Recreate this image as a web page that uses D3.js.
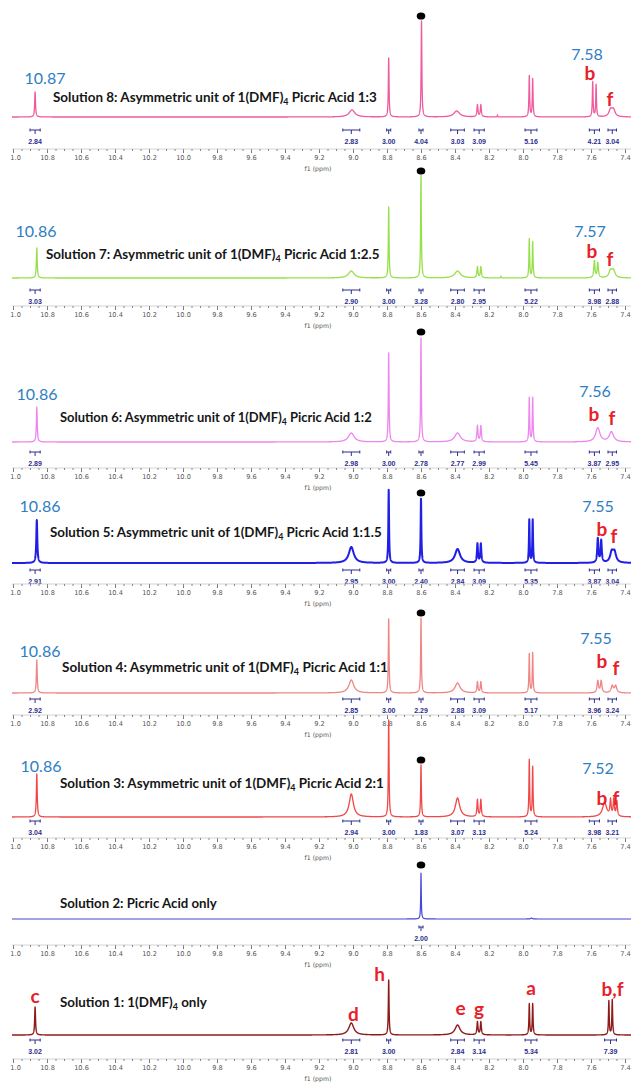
<!DOCTYPE html>
<html>
<head>
<meta charset="utf-8">
<script src="https://cdn.jsdelivr.net/npm/d3@7"></script>
<style>
  body { margin: 0; background: #fff; }
  svg { display: block; }
</style>
</head>
<body>
<svg id="chart" width="631" height="1086"></svg>
<script>
// ---------------- data ----------------
// Chemical-shift axis labels (ppm)
const ppmTicks = [11.0, 10.8, 10.6, 10.4, 10.2, 10.0, 9.8, 9.6, 9.4, 9.2, 9.0, 8.8, 8.6, 8.4, 8.2, 8.0, 7.8, 7.6, 7.4];

// Spectrum titles: [text, subscript, text]
const titlesS = [
  ["Solution 8: Asymmetric unit of 1(DMF)", "4", " Picric Acid 1:3"],
  ["Solution 7: Asymmetric unit of 1(DMF)", "4", " Picric Acid 1:2.5"],
  ["Solution 6: Asymmetric unit of 1(DMF)", "4", " Picric Acid 1:2"],
  ["Solution 5: Asymmetric unit of 1(DMF)", "4", " Picric Acid 1:1.5"],
  ["Solution 4: Asymmetric unit of 1(DMF)", "4", " Picric Acid 1:1"],
  ["Solution 3: Asymmetric unit of 1(DMF)", "4", " Picric Acid 2:1"],
  ["Solution 2: Picric Acid only", "", ""],
  ["Solution 1: 1(DMF)", "4", " only"]
];

// Peaks of each spectrum: [shift ppm, intensity, line width ppm]
const peaksS8 = [[10.87,25,0.006],[9.006,7,0.04],[8.79,59,0.005],[8.597,96,0.005],[8.39,6,0.04],
  [8.268,12,0.007],[8.248,12,0.007],[8.15,2,0.003],[7.963,41,0.005],[7.943,38,0.005],
  [7.59,35,0.005],[7.57,32,0.005],[7.485,7,0.022],[7.468,7,0.022]];
const peaksS7 = [[10.86,30,0.006],[9.01,7,0.04],[8.79,71,0.005],[8.60,103,0.005],[8.385,7,0.04],
  [8.268,11,0.007],[8.248,11,0.007],[8.13,2,0.003],[7.963,39,0.005],[7.943,36,0.005],
  [7.58,17,0.008],[7.56,15,0.008],[7.485,7,0.022],[7.468,7,0.022]];
const peaksS6 = [[10.86,35,0.006],[9.01,9,0.04],[8.79,89,0.005],[8.60,104,0.005],[8.385,9,0.04],
  [8.268,16,0.007],[8.248,16,0.007],[7.963,44,0.005],[7.943,44,0.005],
  [7.56,14,0.03],[7.48,10,0.03]];
const peaksS5 = [[10.86,43,0.007],[9.01,16,0.035],[8.79,73,0.005],[8.60,64,0.005],[8.385,14,0.035],
  [8.268,19,0.007],[8.248,19,0.007],[7.963,43,0.005],[7.943,43,0.005],
  [7.56,24,0.008],[7.54,22,0.008],[7.478,10,0.022],[7.462,10,0.022]];
const peaksS4 = [[10.86,33,0.006],[9.01,13,0.035],[8.79,74,0.005],[8.60,75,0.005],[8.385,10,0.035],
  [8.268,11,0.007],[8.248,11,0.007],[7.963,39,0.005],[7.943,40,0.005],
  [7.56,12,0.01],[7.54,12,0.01],[7.475,7,0.015],[7.455,7,0.015]];
const peaksS3 = [[10.86,43,0.006],[9.01,23,0.03],[8.79,97,0.005],[8.60,52,0.005],[8.385,19,0.03],
  [8.268,17,0.007],[8.248,17,0.007],[7.963,57,0.005],[7.943,50,0.005],
  [7.52,14,0.03],[7.485,16,0.008],[7.466,17,0.008],[7.448,15,0.008]];
const peaksS2 = [[8.60,46,0.004],[7.95,1,0.01]];
const peaksS1 = [[10.87,28,0.006],[9.01,12,0.035],[8.79,55,0.005],[8.385,10,0.035],
  [8.268,13,0.007],[8.248,13,0.007],[7.963,31,0.005],[7.943,31,0.005],
  [7.495,34,0.005],[7.475,35,0.005]];

// Integrated regions: centre (ppm), half-range (ppm) and integral value
const integralPpm = [10.87, 9.01, 8.79, 8.60, 8.385, 8.258, 7.953, 7.58, 7.475];
const integralHalf = [0.03, 0.05, 0.012, 0.012, 0.04, 0.03, 0.035, 0.03, 0.025];
const integralsS8 = [2.84, 2.83, 3.00, 4.04, 3.03, 3.09, 5.16, 4.21, 3.04];
const integralsS7 = [3.03, 2.90, 3.00, 3.28, 2.80, 2.95, 5.22, 3.98, 2.88];
const integralsS6 = [2.89, 2.98, 3.00, 2.78, 2.77, 2.99, 5.45, 3.87, 2.95];
const integralsS5 = [2.91, 2.95, 3.00, 2.40, 2.84, 3.09, 5.35, 3.87, 3.04];
const integralsS4 = [2.92, 2.85, 3.00, 2.29, 2.88, 3.09, 5.17, 3.96, 3.24];
const integralsS3 = [3.04, 2.94, 3.00, 1.83, 3.07, 3.13, 5.24, 3.98, 3.21];
const integralPpmS2 = [8.60];
const integralsS2 = [2.00];
const integralPpmS1 = [10.87, 9.01, 8.79, 8.385, 8.258, 7.953, 7.485];
const integralHalfS1 = [0.03, 0.05, 0.012, 0.04, 0.03, 0.035, 0.035];
const integralsS1 = [3.02, 2.81, 3.00, 2.84, 3.14, 5.34, 7.39];

// Marked shifts of the NH (left) and b (right) signals
const shiftLeft = ["10.87", "10.86", "10.86", "10.86", "10.86", "10.86"];
const shiftRight = ["7.58", "7.57", "7.56", "7.55", "7.55", "7.52"];

// Proton assignments of solution 1
const assignLetters = ["c", "d", "h", "e", "g", "a", "b,f"];
const assignPpm = [10.87, 9.01, 8.79, 8.385, 8.258, 7.953, 7.485];

// ---------------- layout ----------------
const W = 631;
const svg = d3.select("#chart");
const x = d3.scaleLinear().domain([11.0, 7.4]).range([13, 625]);

const lineColors = ["#EF5B9C", "#97E04A", "#EE86EE", "#1F1FE6", "#F08585", "#F04848", "#4646DA", "#8E1B1B"];
const lineWidths = [1.3, 1.3, 1.3, 2.0, 1.3, 1.3, 1.2, 1.4];

const panelLayout = [
  {B:117,  valY:141,  axY:159,  title:[53,97,377],   left:[45,77],   right:[587,53],  b:[590,72],  f:[610,98],  dotY:16},
  {B:278,  valY:301,  axY:316,  title:[46,254,380],  left:[36,230],  right:[590,230], b:[592,250], f:[610,258], dotY:171},
  {B:442,  valY:463,  axY:478,  title:[60,417,372],  left:[37,393],  right:[595,390], b:[594,413], f:[612,417], dotY:332},
  {B:563,  valY:581,  axY:594,  title:[50,532,382],  left:[40,505],  right:[598,505], b:[602,528], f:[614,535], dotY:493},
  {B:693,  valY:710,  axY:725,  title:[62,667,388],  left:[40,650],  right:[596,637], b:[602,660], f:[616,667], dotY:613},
  {B:817,  valY:832,  axY:848,  title:[60,783,384],  left:[41,765],  right:[598,767], b:[602,797], f:[616,797], dotY:760},
  {B:919,  valY:938,  axY:955,  title:[60,903,217],  dotY:865},
  {B:1035, valY:1051, axY:1069, title:[60,1002,207]}
];
const assignY = [995, 1013, 973, 1007, 1008, 987, 988];
const assignDx = [0, 2, -9, 3, 0, 0, 2];

const peakSets = [peaksS8, peaksS7, peaksS6, peaksS5, peaksS4, peaksS3, peaksS2, peaksS1];
const integralSets = [
  {c: integralPpm, h: integralHalf, v: integralsS8},
  {c: integralPpm, h: integralHalf, v: integralsS7},
  {c: integralPpm, h: integralHalf, v: integralsS6},
  {c: integralPpm, h: integralHalf, v: integralsS5},
  {c: integralPpm, h: integralHalf, v: integralsS4},
  {c: integralPpm, h: integralHalf, v: integralsS3},
  {c: integralPpmS2, h: [0.012], v: integralsS2},
  {c: integralPpmS1, h: integralHalfS1, v: integralsS1}
];

// Lorentzian line shapes summed over the peak list
function spectrumAt(peaks, d) {
  let s = 0;
  for (const [p, h, w] of peaks) {
    const g = w / 2;
    s += h * g * g / ((d - p) * (d - p) + g * g);
  }
  return s;
}
const grid = d3.range(11.006, 7.36, -0.0005);

svg.append("defs").append("clipPath").attr("id", "plotClip")
  .append("rect").attr("x", 10).attr("y", 0).attr("width", W - 10).attr("height", 1086);

const navy = "#2E2E8E";
const minorTicks = d3.range(7.4, 11.001, 0.05).map(v => +v.toFixed(2));

panelLayout.forEach((L, i) => {
  const g = svg.append("g").attr("clip-path", "url(#plotClip)");
  const y = d3.scaleLinear().domain([0, 100]).range([L.B, L.B - 100]);
  const peaks = peakSets[i];

  // spectrum trace
  const line = d3.line().x(d => x(d)).y(d => y(spectrumAt(peaks, d)));
  g.append("path").datum(grid)
    .attr("d", line)
    .attr("fill", "none")
    .attr("stroke", lineColors[i])
    .attr("stroke-width", lineWidths[i])
    .attr("stroke-linejoin", "round");

  // picric acid marker
  if (L.dotY !== undefined) {
    g.append("ellipse").attr("cx", x(8.60)).attr("cy", L.dotY)
      .attr("rx", 4.3).attr("ry", 3.6).attr("fill", "#000");
  }

  // integration brackets and values
  const I = integralSets[i];
  const bY = L.valY - 11;
  I.v.forEach((val, k) => {
    const x1 = x(I.c[k] + I.h[k]), x2 = x(I.c[k] - I.h[k]), xm = x(I.c[k]);
    g.append("path")
      .attr("d", `M${x1},${bY - 1.5}V${bY + 1.5}M${x1},${bY}H${x2}M${x2},${bY - 1.5}V${bY + 1.5}M${xm},${bY}V${bY + 4}`)
      .attr("stroke", navy).attr("stroke-width", 1).attr("fill", "none");
    g.append("text").attr("x", xm).attr("y", L.valY)
      .attr("text-anchor", "middle").attr("dominant-baseline", "central")
      .attr("font-family", "Liberation Sans, Arial, sans-serif")
      .attr("font-weight", "bold").attr("font-size", 7)
      .attr("fill", navy).text(val.toFixed(2));
  });

  // ppm axis
  const axLineY = L.axY - 10;
  g.append("line").attr("x1", 12).attr("x2", W).attr("y1", axLineY).attr("y2", axLineY)
    .attr("stroke", "#d4d4d4").attr("stroke-width", 1);
  const major = g.append("g").attr("transform", `translate(0,${axLineY})`)
    .call(d3.axisBottom(x).tickValues(ppmTicks).tickFormat(d3.format(".1f")).tickSize(4).tickPadding(2));
  major.select(".domain").remove();
  major.selectAll(".tick line").attr("stroke", "#777");
  major.selectAll(".tick text")
    .attr("font-family", "DejaVu Sans, Verdana, sans-serif").attr("font-size", 6.6).attr("fill", "#555");
  const minor = g.append("g").attr("transform", `translate(0,${axLineY})`)
    .call(d3.axisBottom(x).tickValues(minorTicks).tickFormat("").tickSize(2));
  minor.select(".domain").remove();
  minor.selectAll(".tick line").attr("stroke", "#888");
  g.append("text").attr("x", 318).attr("y", L.axY + 9)
    .attr("text-anchor", "middle").attr("dominant-baseline", "central")
    .attr("font-family", "DejaVu Sans, Verdana, sans-serif").attr("font-size", 6.2).attr("fill", "#555")
    .text("f1 (ppm)");

  // title, squeezed horizontally to its span
  const tg = svg.append("g");
  const t = tg.append("text").attr("x", 0).attr("y", 0)
    .attr("dominant-baseline", "central")
    .attr("font-family", "Lato, 'Open Sans', sans-serif").attr("font-weight", "bold")
    .attr("font-size", 13.5).attr("fill", "#161616");
  const parts = titlesS[i];
  t.append("tspan").text(parts[0]);
  if (parts[1]) {
    t.append("tspan").attr("font-size", 9).attr("dy", 4).text(parts[1]);
    t.append("tspan").attr("dy", -4).text(parts[2]);
  }
  const natural = t.node().getComputedTextLength();
  const sx = (L.title[2] - L.title[0]) / natural;
  tg.attr("transform", `translate(${L.title[0]},${L.title[1]}) scale(${sx},1)`);

  // shift labels and b/f assignments
  if (L.left) {
    svg.append("text").attr("x", L.left[0]).attr("y", L.left[1])
      .attr("text-anchor", "middle").attr("dominant-baseline", "central")
      .attr("font-family", "Lato, sans-serif").attr("font-size", 16).attr("fill", "#2E7EC4")
      .text(shiftLeft[i]);
    svg.append("text").attr("x", L.right[0]).attr("y", L.right[1])
      .attr("text-anchor", "middle").attr("dominant-baseline", "central")
      .attr("font-family", "Lato, sans-serif").attr("font-size", 16).attr("fill", "#2E7EC4")
      .text(shiftRight[i]);
    [["b", L.b], ["f", L.f]].forEach(([s, p]) => {
      svg.append("text").attr("x", p[0]).attr("y", p[1])
        .attr("text-anchor", "middle").attr("dominant-baseline", "central")
        .attr("font-family", "Lato, sans-serif").attr("font-weight", "bold")
        .attr("font-size", 19).attr("fill", "#E8202A").text(s);
    });
  }
});

// assignment letters for solution 1
assignLetters.forEach((s, k) => {
  svg.append("text").attr("x", x(assignPpm[k]) + assignDx[k]).attr("y", assignY[k])
    .attr("text-anchor", "middle").attr("dominant-baseline", "central")
    .attr("font-family", "Lato, sans-serif").attr("font-weight", "bold")
    .attr("font-size", 19).attr("fill", "#E8202A").text(s);
});
</script>
</body>
</html>
